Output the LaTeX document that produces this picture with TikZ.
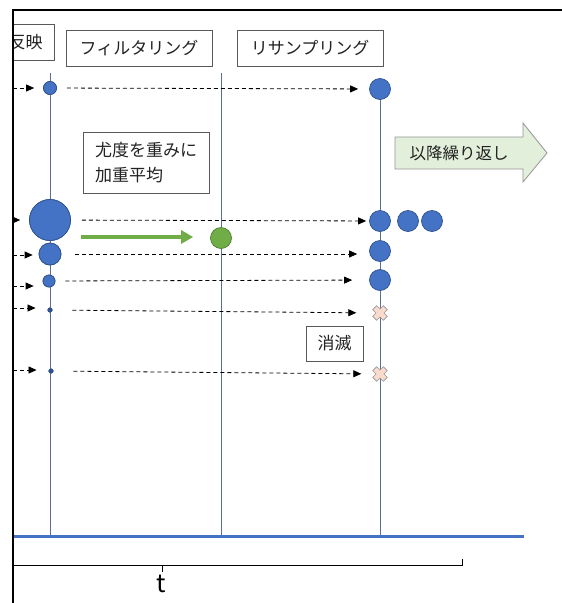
\documentclass[tikz,border=0pt]{standalone}
\usepackage{fontspec}
\setmainfont{Noto Sans CJK JP}
\usetikzlibrary{arrows.meta}
\definecolor{cblue}{RGB}{68,114,196}
\definecolor{cblueD}{RGB}{47,82,143}
\definecolor{vcol}{RGB}{85,112,150}
\definecolor{cgreen}{RGB}{112,173,71}
\definecolor{cgreenD}{RGB}{80,126,50}
\definecolor{boxgray}{RGB}{89,89,89}
\definecolor{txt}{RGB}{35,35,35}
\definecolor{arrfill}{RGB}{226,239,218}
\definecolor{xfill}{RGB}{250,218,205}
\definecolor{xdraw}{RGB}{150,150,150}
\tikzset{
  vline/.style={draw=vcol, line width=0.8pt},
  dot/.style={circle, fill=cblue, draw=cblueD, line width=0.7pt, inner sep=0pt},
  tinydot/.style={circle, fill=cblueD, draw=cblueD, inner sep=0pt, minimum size=4.5pt},
  dasharrow/.style={dash pattern=on 4pt off 3pt, line width=0.8pt, -{Triangle[length=8pt,width=7pt]}},
  labelbox/.style={draw=boxgray, line width=0.8pt, fill=white, text=txt, inner sep=0pt,
    font=\fontsize{17}{25}\selectfont},
  xnode/.style={circle, inner sep=0pt, minimum size=15pt},
  xmark/.pic={
    \draw[fill=xfill, draw=xdraw, line width=0.6pt, rotate=45]
      (2.8,7.5) -- (2.8,2.8) -- (7.5,2.8) -- (7.5,-2.8) -- (2.8,-2.8) -- (2.8,-7.5)
      -- (-2.8,-7.5) -- (-2.8,-2.8) -- (-7.5,-2.8) -- (-7.5,2.8) -- (-2.8,2.8) -- (-2.8,7.5) -- cycle;
  }
}
\begin{document}
\begin{tikzpicture}[x=1pt,y=-1pt]
\useasboundingbox[fill=white] (0,0) rectangle (562,603);
\begin{scope}
\clip (13,0) rectangle (562,603);
% header boxes
\node[labelbox, anchor=east, minimum height=36pt, inner xsep=12pt] (hanei) at (55,42) {反映};
\node[labelbox, minimum width=146pt, minimum height=36pt] (filt) at (139,48) {フィルタリング};
\node[labelbox, minimum width=146pt, minimum height=36pt] (resamp) at (310,48) {リサンプリング};
% axis
\coordinate (axL) at (13,536);
\coordinate (axR) at (524,536);
% nodes on line 1
\node[dot, minimum size=13pt] (cA) at (50,88) {};
\node[dot, minimum size=41pt] (cB) at (50,220) {};
\node[dot, minimum size=22pt] (cC) at (50,254) {};
\node[dot, minimum size=12pt] (cD) at (49,281) {};
\node[tinydot] (dE) at (50,310) {};
\node[tinydot] (dF) at (51,371) {};
% line 3 nodes
\node[dot, minimum size=21pt] (rA) at (380,89) {};
\node[dot, minimum size=21pt] (rB) at (380,221) {};
\node[dot, minimum size=21pt] (rB2) at (408,221) {};
\node[dot, minimum size=21pt] (rB3) at (432,221) {};
\node[dot, minimum size=21pt] (rC) at (380,251) {};
\node[dot, minimum size=21pt] (rD) at (380,280) {};
\node[xnode] (xE) at (380,313) {};
\node[xnode] (xF) at (380,374) {};
% green
\node[circle, fill=cgreen, draw=cgreenD, line width=0.7pt, inner sep=0pt, minimum size=21pt] (gC) at (221,238) {};
% vertical lines
\coordinate (l1top) at (50,73);
\coordinate (l2top) at (221,73);
\path[vline] (l1top) -- (l1top |- axL);
\path[vline] (l2top) -- (gC.north);
\path[vline] (gC.south) -- (gC.south |- axL);
\path[vline] (rA.south) -- (rB.north);
\path[vline] (rB.south) -- (rC.north);
\path[vline] (rC.south) -- (rD.north);
\path[vline] (rD.south) -- (rD.south |- axL);
% redraw circles on line 1 on top of line
\node[dot, minimum size=13pt] at (cA) {};
\node[dot, minimum size=41pt] at (cB) {};
\node[dot, minimum size=22pt] at (cC) {};
\node[dot, minimum size=12pt] at (cD) {};
\node[tinydot] at (dE) {};
\node[tinydot] at (dF) {};
\pic at (xE) {xmark};
\pic at (xF) {xmark};
% axis
\draw[cblue, line width=3pt] (axL) -- (axR);
% incoming arrows
\coordinate (inA) at (13,88);
\coordinate (inB) at (13,220);
\coordinate (inC) at (13,255);
\coordinate (inD) at (13,286);
\coordinate (inE) at (13,308);
\coordinate (inF) at (13,370);
\draw[dasharrow, shorten >=9pt] (inA) -- (inA -| cA.west);
\draw[dasharrow, shorten >=9pt] (inB) -- (inB -| cB.west);
\draw[dasharrow, shorten >=6pt] (inC) -- (inC -| cC.west);
\draw[dasharrow, shorten >=9pt] (inD) -- (inD -| cD.west);
\draw[dasharrow, shorten >=12pt] (inE) -- (inE -| dE.west);
\draw[dasharrow, shorten >=12pt] (inF) -- (inF -| dF.west);
% outgoing arrows
\draw[dasharrow, shorten <=10pt, shorten >=11pt] (cA) -- (rA);
\draw[dasharrow, shorten <=11pt, shorten >=3pt] (cB) -- (rB);
\draw[dasharrow, shorten <=14pt, shorten >=12pt] (cC.east) -- (cC.east -| rC.west);
\draw[dasharrow, shorten <=10pt, shorten >=17pt] (cD) -- (rD);
\draw[dasharrow, shorten <=20pt, shorten >=16pt] (dE) -- (xE);
\draw[dasharrow, shorten <=20pt, shorten >=11pt] (dF) -- (xF);
% green arrow
\coordinate (gStart) at (81,237);
\draw[cgreen, line width=4pt, -{Triangle[length=12pt,width=13pt]}, shorten >=17pt] (gStart) -- (gStart -| gC.west);
% text boxes
\node[labelbox, minimum width=126pt, minimum height=61pt, align=left] (weight) at (146,162.5) {尤度を重みに\\加重平均};
\node[labelbox, minimum width=57pt, minimum height=35pt] (shometsu) at (334.5,343.5) {消滅};
% repeat arrow
\draw[fill=arrfill, draw=xdraw, line width=0.8pt]
  (395,137) -- (523,137) -- (523,123) -- (547,153) -- (523,182) -- (523,169) -- (395,169) -- cycle;
\node[text=txt, font=\fontsize{16.5}{20}\selectfont, inner sep=0pt] (repeat) at (459,153) {以降繰り返し};
% bracket
\draw[line width=0.8pt] (13,565) -- (462,565) -- (462,559);
\coordinate (tick) at (162,565);
\draw[line width=0.8pt] (tick) -- ++(0,7);
\node[font=\fontsize{25}{28}\selectfont, text=black, inner sep=0pt] (tlabel) at (161,584) {t};
\end{scope}
% frame
\draw[line width=2pt] (13,603) -- (13,10) -- (562,10);
\end{tikzpicture}
\end{document}
